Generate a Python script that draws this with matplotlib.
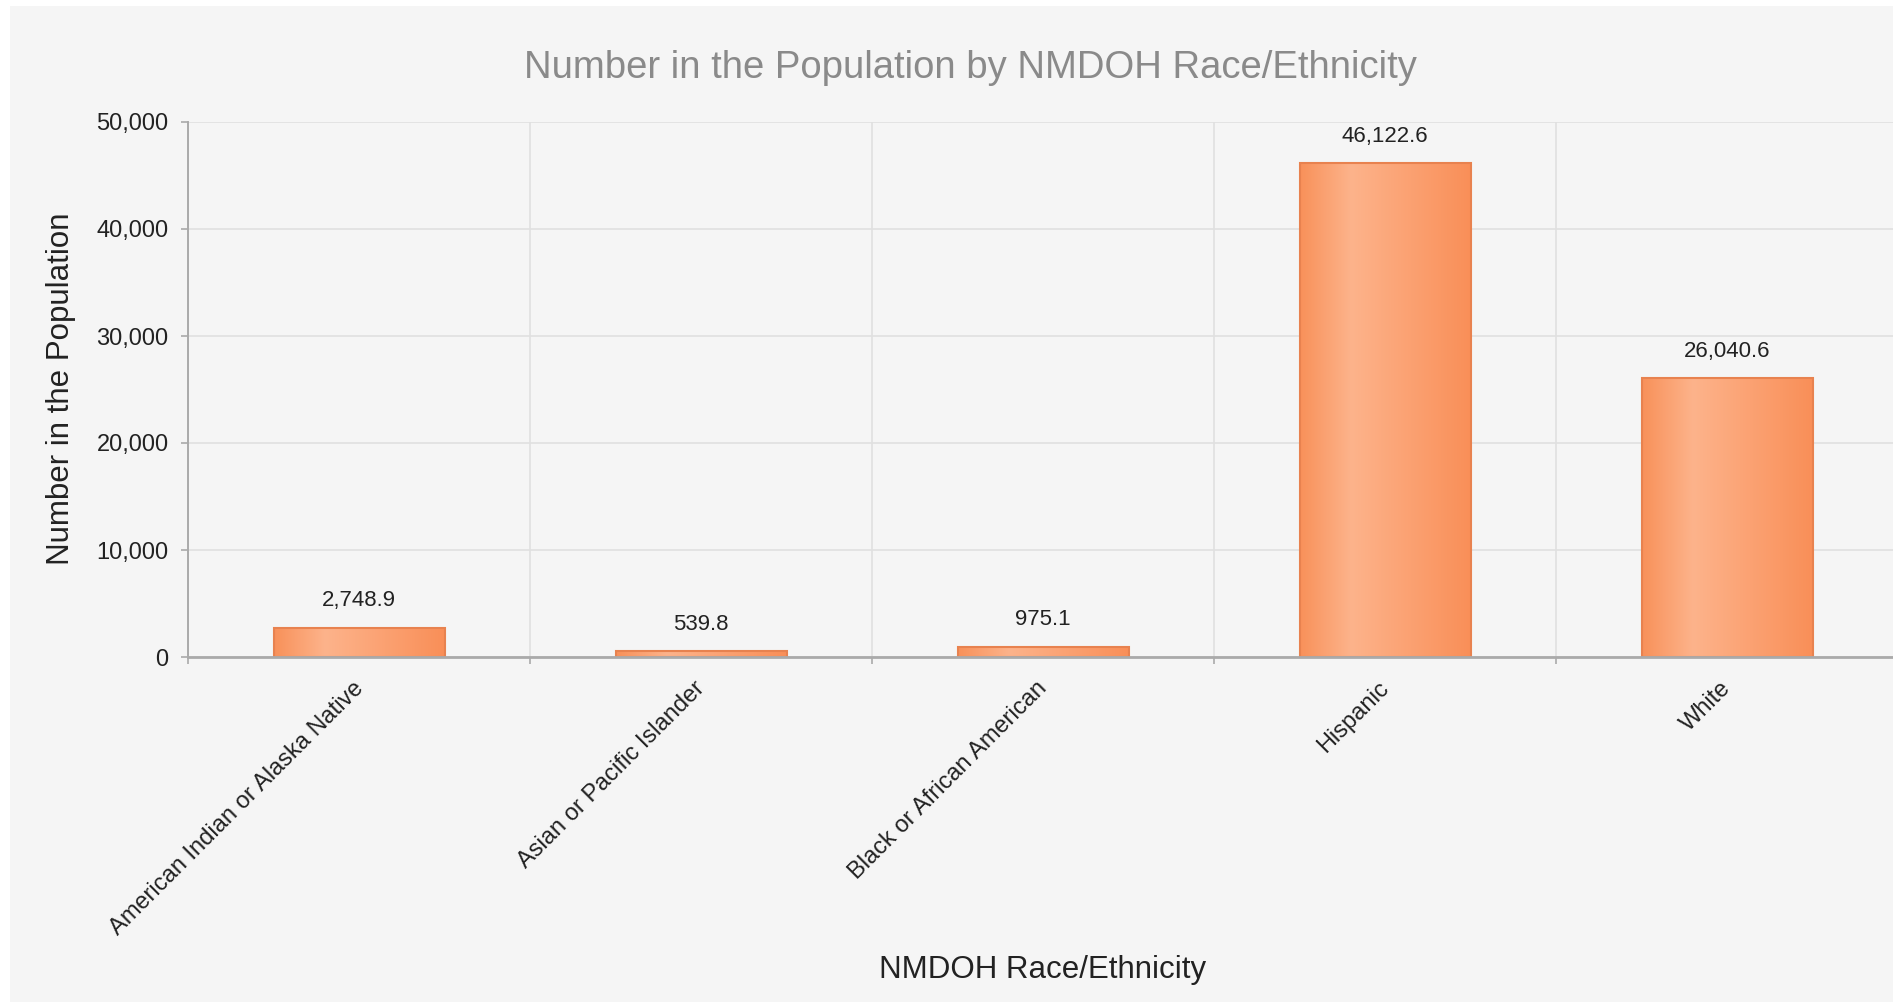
import matplotlib
matplotlib.use("Agg")
import matplotlib.pyplot as plt
import matplotlib.transforms as mtransforms
import numpy as np
from matplotlib.colors import LinearSegmentedColormap
from matplotlib.ticker import FuncFormatter, FixedLocator
from matplotlib.patches import Rectangle

plt.rcParams['font.family'] = ['Liberation Sans', 'DejaVu Sans']

categories = ["American Indian or Alaska Native", "Asian or Pacific Islander",
              "Black or African American", "Hispanic", "White"]
values = [2748.9, 539.8, 975.1, 46122.6, 26040.6]
y_ticks = [0, 10000, 20000, 30000, 40000, 50000]
title = "Number in the Population by NMDOH Race/Ethnicity"
x_title = "NMDOH Race/Ethnicity"
y_title = "Number in the Population"

W, H = 1893, 1002
fig = plt.figure(figsize=(W / 100, H / 100), dpi=100)
fig.patch.set_facecolor('white')
fig.patches.append(Rectangle((10 / W, 0), 1, 1 - 6 / H, transform=fig.transFigure,
                             facecolor='#f5f5f5', edgecolor='none', zorder=-10))

ax = fig.add_axes([188 / W, 1 - 657 / H, 1710 / W, 535 / H])
ax.set_facecolor('none')

x = np.arange(len(categories))
bars = ax.bar(x, values, width=0.5, color='none', edgecolor='#e8824f',
              linewidth=1.5, zorder=3)

cmap = LinearSegmentedColormap.from_list(
    'bar', [(0.0, '#f8915a'), (0.3, '#fdb38b'), (1.0, '#f98f58')])
grad = np.linspace(0, 1, 256).reshape(1, -1)
for b in bars:
    x0, y0 = b.get_x(), b.get_y()
    im = ax.imshow(grad, cmap=cmap, extent=[x0, x0 + b.get_width(), y0, y0 + b.get_height()],
                   aspect='auto', zorder=2, interpolation='bilinear')
    im.set_clip_path(b)

for xi, v in zip(x, values):
    ax.annotate(f"{v:,.1f}", (xi, v), xytext=(0, 15.5), textcoords='offset points',
                ha='center', va='baseline', fontsize=16, color='#222222', zorder=5)

ax.set_xlim(-0.5, len(categories) - 0.5)
ax.set_ylim(0, 50000)

ax.yaxis.set_major_locator(FixedLocator(y_ticks))
ax.yaxis.set_major_formatter(FuncFormatter(lambda v, p: f"{v:,.0f}"))
ax.tick_params(axis='y', direction='out', length=5, width=1.2, color='#aaaaaa',
               labelsize=17, labelcolor='#222222', pad=9)

ax.xaxis.set_major_locator(FixedLocator(np.arange(-0.5, len(categories), 1.0)))
ax.xaxis.set_major_formatter(FuncFormatter(lambda v, p: ""))
ax.set_xticks(x, minor=True)
ax.set_xticklabels(categories, minor=True, rotation=45, ha='right',
                   rotation_mode='anchor', fontsize=17, color='#222222')
ax.tick_params(axis='x', which='major', direction='out', length=5, width=1.2,
               color='#aaaaaa')
ax.tick_params(axis='x', which='minor', length=0, pad=16)
shift = mtransforms.ScaledTranslation(-7 / 100, 2 / 100, fig.dpi_scale_trans)
for lbl in ax.get_xticklabels(minor=True):
    lbl.set_transform(lbl.get_transform() + shift)

ax.grid(True, which='major', color='#e0e0e0', linewidth=1.2, zorder=0)
ax.set_axisbelow(True)

for s in ['top', 'right']:
    ax.spines[s].set_visible(False)
ax.spines['left'].set_color('#aaaaaa')
ax.spines['left'].set_linewidth(1.4)
ax.spines['bottom'].set_color('#aaaaaa')
ax.spines['bottom'].set_linewidth(2.0)
ax.spines['bottom'].set_zorder(4)

fig.text(970 / W, 1 - 78 / H, title, ha='center', va='baseline',
         fontsize=27.5, color='#8a8a8a')
fig.text(61 / W, 1 - 389 / H, y_title, ha='center', va='center', rotation=90,
         fontsize=22.5, color='#222222')
fig.text(1043 / W, 1 - 970 / H, x_title, ha='center', va='center',
         fontsize=22.5, color='#222222')

fig.savefig('out.png', dpi=100, facecolor=fig.get_facecolor())
